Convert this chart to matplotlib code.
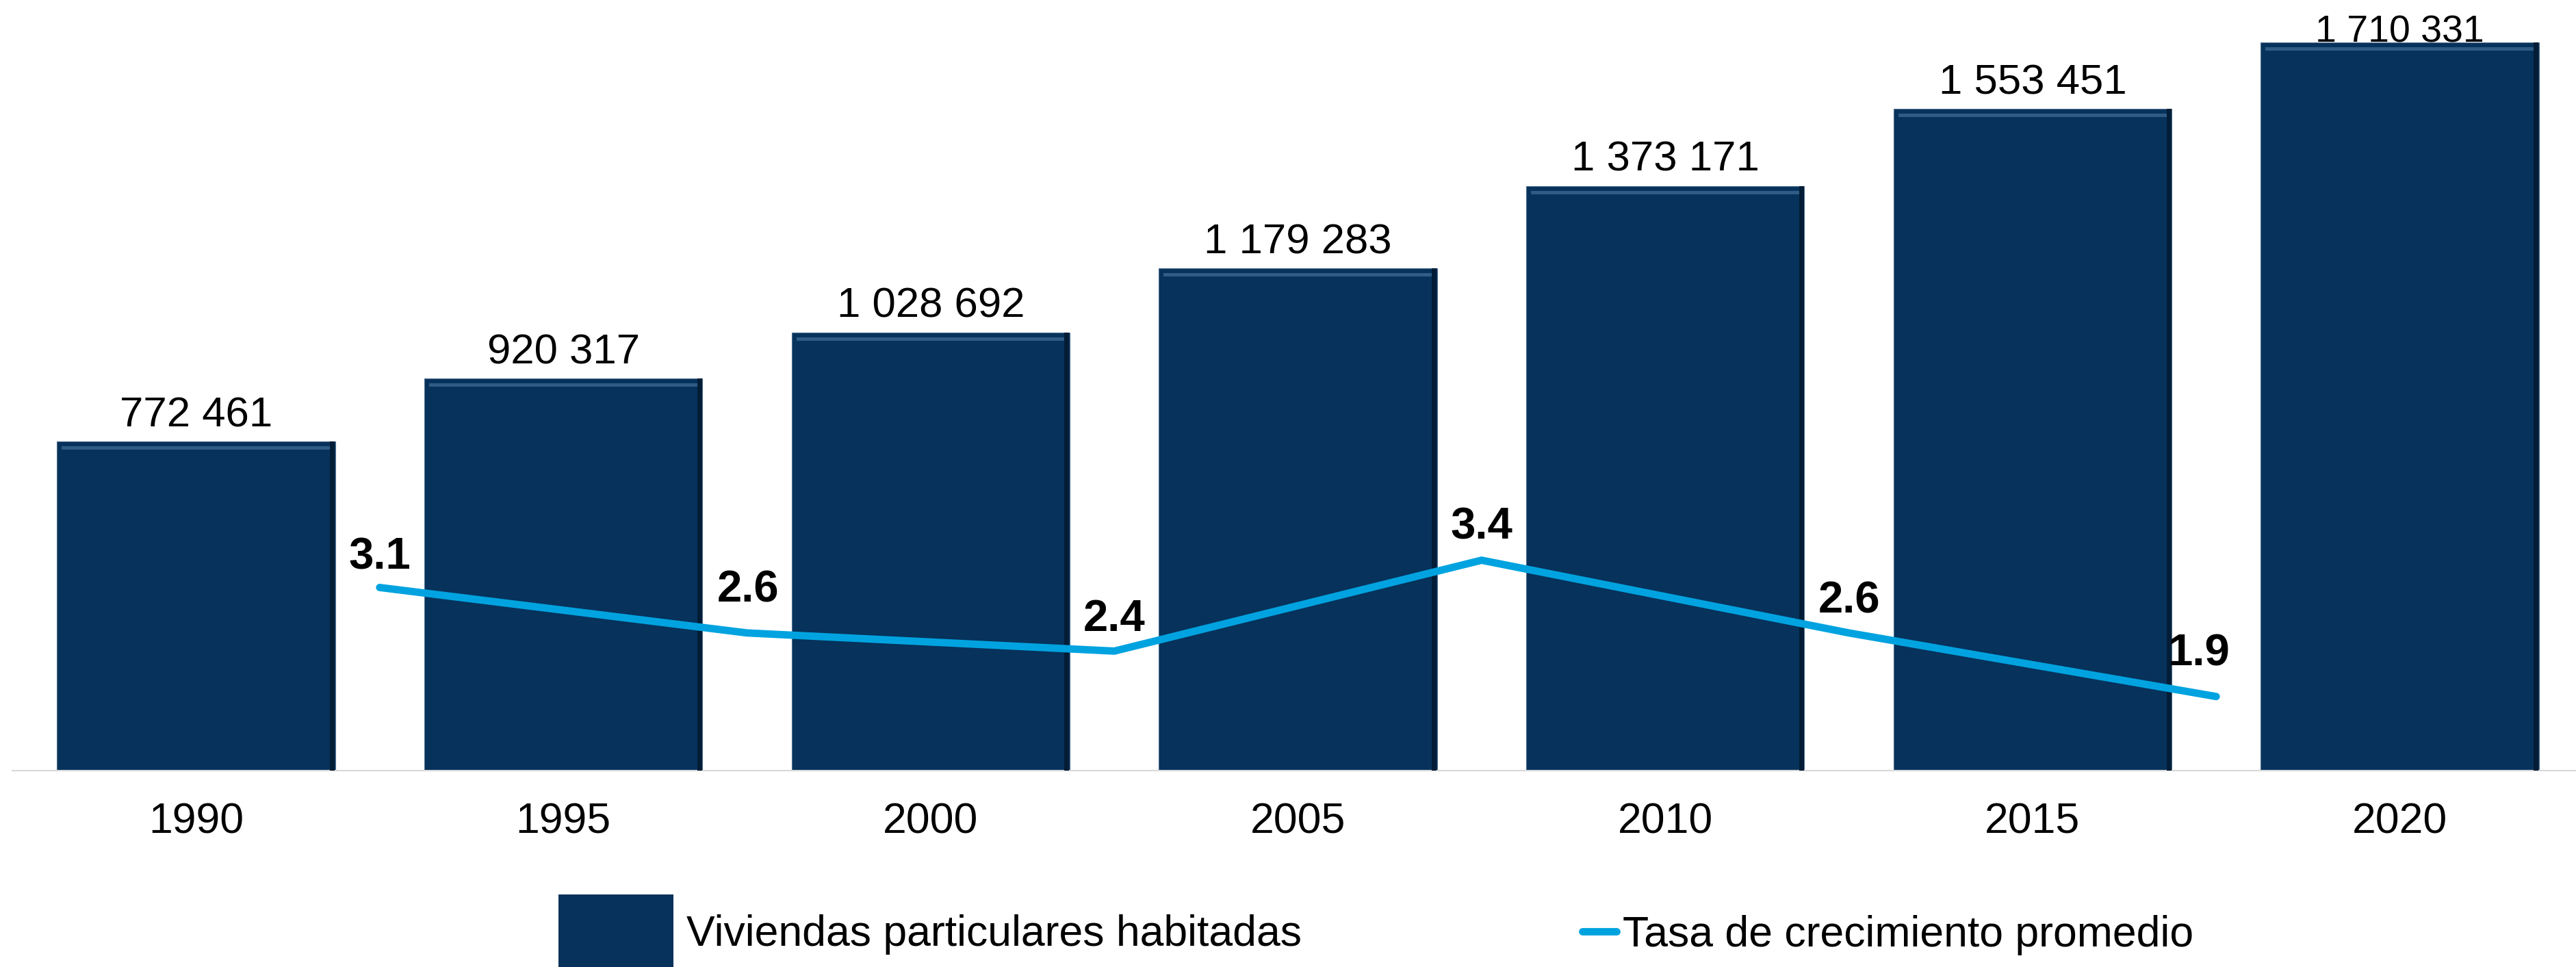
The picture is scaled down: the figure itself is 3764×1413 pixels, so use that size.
import matplotlib
matplotlib.use("Agg")
import matplotlib.pyplot as plt
from matplotlib.patches import Patch
from matplotlib.lines import Line2D
import numpy as np

plt.rcParams["font.family"] = ["Liberation Sans", "DejaVu Sans"]

# datos
years = ["1990", "1995", "2000", "2005", "2010", "2015", "2020"]
viviendas = [772461, 920317, 1028692, 1179283, 1373171, 1553451, 1710331]
tasa = [3.1, 2.6, 2.4, 3.4, 2.6, 1.9]

# desplazamiento de cada etiqueta de la tasa (puntos), como quedaron en el original
lab_dx = [0, 1, 0, 0, 0, -18]
lab_dy = [19.5, 32.5, 21.5, 22.5, 21, 32.5]

bar_color = "#06325b"
line_color = "#00a3e0"
W, H = 3764, 1413


def miles(v):
    return f"{v:,}".replace(",", " ")


fig = plt.figure(figsize=(W / 100, H / 100), dpi=100)
ax = fig.add_axes([18 / W, 287 / H, 3757 / W, 1120 / H])

x = np.arange(len(years))
bw = 0.757
ymax = 1.8e6
py = ymax / 1120          # data units per pixel (y)
px = 7 / 3757             # data units per pixel (x)

ax.bar(x, viviendas, width=bw, color=bar_color, edgecolor="#52708f",
       linewidth=0.8, zorder=2)
# bisel: franja clara arriba, sombra a la derecha
ax.bar(x, [5 * py] * len(x), bottom=[v - 12 * py for v in viviendas],
       width=bw - 14 * px, color="#2f5c86", zorder=3)
ax.bar(x + bw / 2 - 4 * px, viviendas, width=7 * px, color="#031d36", zorder=3)

for i, v in enumerate(viviendas):
    last = i == len(viviendas) - 1
    # la ultima etiqueta queda pegada al borde superior, como en el original
    ax.annotate(miles(v), (x[i], v), xytext=(0, 0 if last else 16),
                textcoords="offset points", ha="center", va="baseline",
                fontsize=40 if last else 44.5)

ax.set_xlim(-0.5, len(years) - 0.5)
ax.set_ylim(0, ymax)
ax.set_xticks(x, years)
ax.set_yticks([])
ax.tick_params(axis="x", length=0, pad=33, labelsize=45)
for s in ["top", "left", "right"]:
    ax.spines[s].set_visible(False)
ax.spines["bottom"].set_color("#d9d9d9")
ax.spines["bottom"].set_linewidth(1.5)

ax2 = ax.twinx()
xt = np.arange(len(tasa)) + 0.5
ax2.plot(xt, tasa, color=line_color, lw=7.8, solid_capstyle="round",
         solid_joinstyle="miter")
for xi, t, dx, dy in zip(xt, tasa, lab_dx, lab_dy):
    ax2.annotate(f"{t:.1f}", (xi, t), xytext=(dx, dy), textcoords="offset points",
                 ha="center", va="baseline", fontsize=47, fontweight="bold")
ax2.set_ylim(1.085, 9.52)
ax2.set_yticks([])
for s in ax2.spines.values():
    s.set_visible(False)

fig.legend(handles=[Patch(facecolor=bar_color)],
           labels=["Viviendas particulares habitadas"],
           loc="center left", bbox_to_anchor=(816 / W, 1 - 1363 / H),
           frameon=False, fontsize=45, handlelength=2.69, handleheight=2.38,
           handletextpad=0.3, borderpad=0, borderaxespad=0)
fig.legend(handles=[Line2D([], [], color=line_color, lw=7.8, solid_capstyle="round")],
           labels=["Tasa de crecimiento promedio"],
           loc="center left", bbox_to_anchor=(2312 / W, 1 - 1366 / H),
           frameon=False, fontsize=45, handlelength=0.8,
           handletextpad=0.15, borderpad=0, borderaxespad=0)

fig.savefig("out.png", dpi=100)
